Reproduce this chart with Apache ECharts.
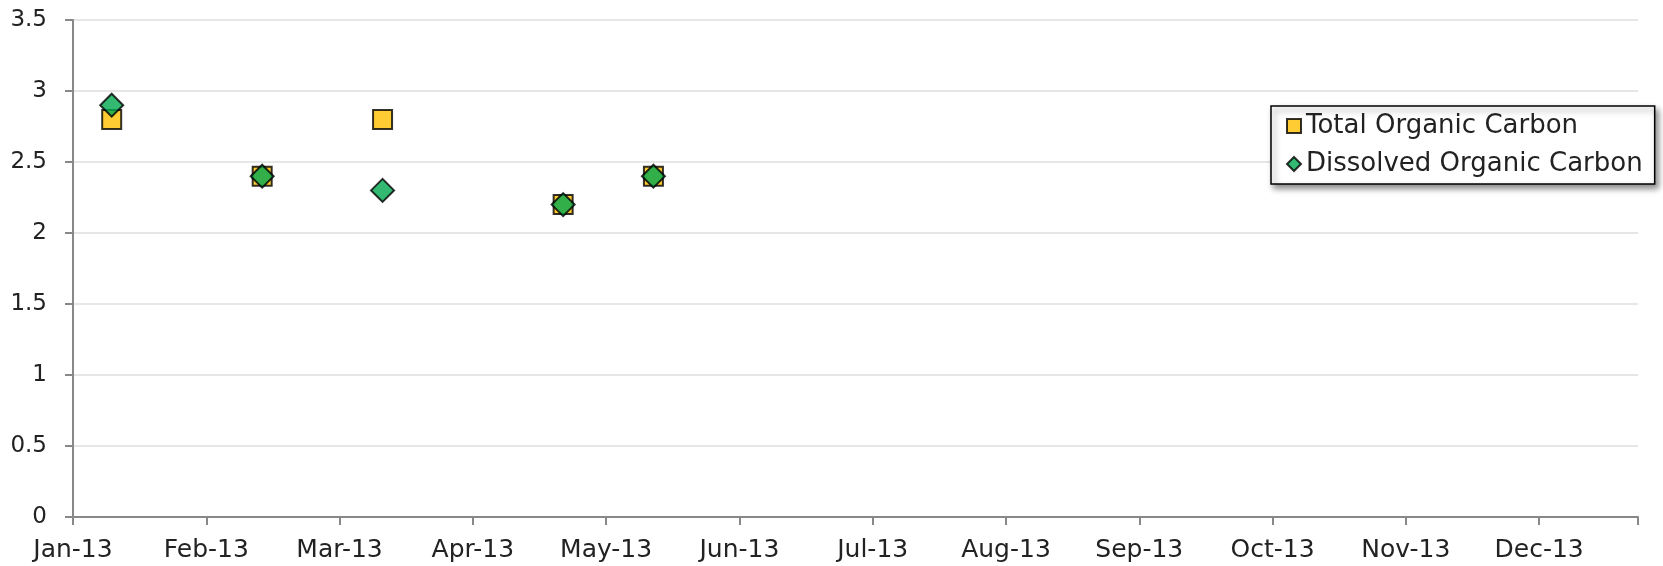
<!DOCTYPE html>
<html>
<head>
<meta charset="utf-8">
<script src="https://cdn.jsdelivr.net/npm/echarts@6/dist/echarts.min.js"></script>
<style>
  html, body { margin: 0; padding: 0; background: #fff; }
  .chart { width: 1663px; height: 566px; }
</style>
</head>
<body>
<div class="chart"></div>
<script>
// sample dates and values
var sampleDates = ['2013-01-10', '2013-02-14', '2013-03-14', '2013-04-25', '2013-05-16'];
var tocValues = [2.8, 2.4, 2.8, 2.2, 2.4];
var docValues = [2.9, 2.4, 2.3, 2.2, 2.4];
var monthLabels = ['Jan-13', 'Feb-13', 'Mar-13', 'Apr-13', 'May-13', 'Jun-13', 'Jul-13', 'Aug-13', 'Sep-13', 'Oct-13', 'Nov-13', 'Dec-13'];
var yTicks = [0, 0.5, 1, 1.5, 2, 2.5, 3, 3.5];

(function () {
  // days since 1 Jan 2013
  var start = Date.UTC(2013, 0, 1)
  var toDay = function (s) {
    var p = s.split('-')
    return (Date.UTC(+p[0], +p[1] - 1, +p[2]) - start) / 86400000
  }
  var pairs = function (vals) {
    return vals.map(function (v, i) { return [toDay(sampleDates[i]), v] })
  }
  var font = 'DejaVu Sans'
  var option = {
    animation: false,
    grid: {
      left: 73,
      right: 25,
      top: 20,
      bottom: 49
    },
    legend: {
      left: 1271,
      top: 106,
      orient: 'vertical',
      data: [
        { name: 'Total Organic Carbon', icon: 'rect' },
        { name: 'Dissolved Organic Carbon', icon: 'diamond' }
      ],
      itemWidth: 14,
      itemHeight: 14,
      itemGap: 12,
      padding: [7, 12, 7, 15],
      backgroundColor: '#fff',
      borderColor: '#000',
      borderWidth: 1.5,
      borderRadius: 0,
      shadowColor: 'rgba(0,0,0,0.45)',
      shadowBlur: 6,
      shadowOffsetX: 3,
      shadowOffsetY: 4,
      textStyle: {
        fontFamily: font,
        fontSize: 26,
        color: '#222'
      }
    },
    xAxis: {
      type: 'value',
      min: 0,
      max: 364,
      interval: 31,
      axisLine: { lineStyle: { color: '#888', width: 2 } },
      axisTick: { show: true, length: 8, lineStyle: { color: '#888', width: 2 } },
      splitLine: { show: false },
      axisLabel: {
        fontFamily: font,
        fontSize: 25,
        color: '#222',
        margin: 21,
        formatter: function (v) {
          var i = Math.round(v / 31)
          return monthLabels[i] || ''
        }
      }
    },
    yAxis: {
      type: 'value',
      min: yTicks[0],
      max: yTicks[yTicks.length - 1],
      interval: 0.5,
      axisLine: { show: true, lineStyle: { color: '#888', width: 2 } },
      axisTick: { show: true, length: 8, lineStyle: { color: '#888', width: 2 } },
      splitLine: { lineStyle: { color: '#e6e6e6', width: 2 } },
      axisLabel: {
        fontFamily: font,
        fontSize: 23,
        color: '#222',
        margin: 26
      }
    },
    series: [
      {
        name: 'Total Organic Carbon',
        type: 'scatter',
        symbol: 'rect',
        symbolSize: 19,
        itemStyle: { color: '#ffc000', borderColor: '#000', borderWidth: 2 },
        data: pairs(tocValues)
      },
      {
        name: 'Dissolved Organic Carbon',
        type: 'scatter',
        symbol: 'diamond',
        symbolSize: 23,
        itemStyle: { color: '#00a84f', borderColor: '#000', borderWidth: 2 },
        data: pairs(docValues)
      }
    ]
  }
  var myChart = echarts.init(document.querySelector('.chart'))
  myChart.setOption(option)
})();
</script>
</body>
</html>
